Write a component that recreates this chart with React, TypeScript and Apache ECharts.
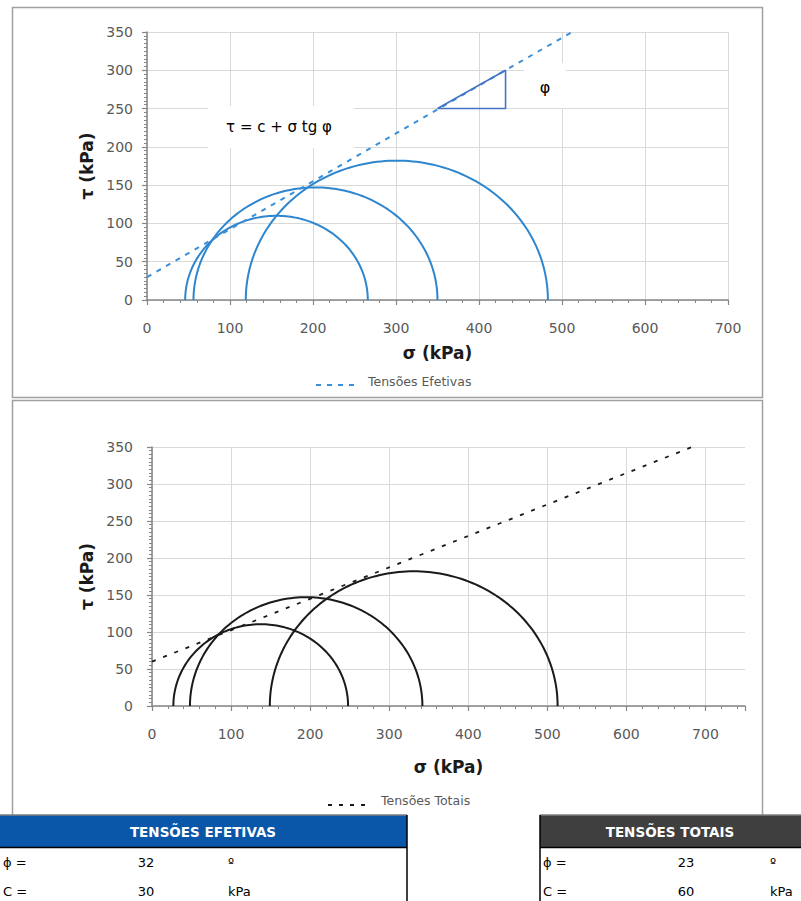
import React, { useEffect, useRef } from "react";
import * as echarts from "echarts";

// ---- Data ----
// Mohr circles: [sigma3, sigma1] (kPa)
const effCircles: number[][] = [
  [46, 266],
  [56, 350],
  [119, 483],
];
const totCircles: number[][] = [
  [27, 248],
  [48, 342],
  [149, 513],
];
// Failure envelopes: [sigma, tau] end points (kPa)
const effEnvelope: number[][] = [
  [0, 30],
  [512, 350],
];
const totEnvelope: number[][] = [
  [0, 60],
  [683, 350],
];
// Slope triangle on the effective envelope
const effTriangle: number[][] = [
  [350, 250],
  [432, 300],
  [432, 250],
  [350, 250],
];
// Parameter tables
const effParams = { phi: "32", c: "30" };
const totParams = { phi: "23", c: "60" };
const seriesNames = ["Tensões Efetivas", "Tensões Totais"];
const axisNames = { x: "σ (kPa)", y: "τ (kPa)" };

const FONT = "DejaVu Sans, sans-serif";
const BLUE = "#2E86CF";
const BLUE_DASH = "#3A8FD8";
const TRI = "#4472C4";
const BLACK = "#1a1a1a";
const AXIS = "#868686";
const GRID = "#D9D9D9";
const LABEL = "#595959";

function circleRenderer(color: string) {
  return (params: any, api: any) => {
    const s3 = api.value(0);
    const s1 = api.value(1);
    const c = (s1 + s3) / 2;
    const r = (s1 - s3) / 2;
    const pts: number[][] = [];
    const N = 120;
    for (let i = 0; i <= N; i++) {
      const t = (Math.PI * i) / N;
      pts.push(api.coord([c + r * Math.cos(t), r * Math.sin(t)]));
    }
    return {
      type: "polyline",
      shape: { points: pts },
      style: { fill: "none", stroke: color, lineWidth: 2 },
    };
  };
}

function xAxisCfg(gridIndex: number, max: number, nameGap: number, hideMax: boolean) {
  return {
    type: "value",
    gridIndex,
    min: 0,
    max,
    interval: 100,
    name: axisNames.x,
    nameLocation: "middle",
    nameGap,
    nameTextStyle: { fontFamily: FONT, fontWeight: "bold", fontSize: 17, color: BLACK },
    axisLine: { show: true, lineStyle: { color: AXIS, width: 1.5 } },
    axisTick: { show: true, length: 5, lineStyle: { color: AXIS, width: 1.2 } },
    minorTick: { show: true, splitNumber: 5, length: 3, lineStyle: { color: AXIS, width: 1 } },
    splitLine: { show: true, showMaxLine: !hideMax, lineStyle: { color: GRID, width: 1 } },
    axisLabel: {
      margin: 21,
      color: LABEL,
      fontSize: 14,
      fontFamily: FONT,
      showMaxLabel: !hideMax,
    },
  };
}

function yAxisCfg(gridIndex: number, nameGap: number, margin: number) {
  return {
    type: "value",
    gridIndex,
    min: 0,
    max: 350,
    interval: 50,
    name: axisNames.y,
    nameLocation: "middle",
    nameGap,
    nameRotate: 90,
    nameTextStyle: { fontFamily: FONT, fontWeight: "bold", fontSize: 17, color: BLACK },
    axisLine: { show: true, lineStyle: { color: AXIS, width: 1.5 } },
    axisTick: { show: true, length: 5, lineStyle: { color: AXIS, width: 1.2 } },
    minorTick: { show: true, splitNumber: 10, length: 3, lineStyle: { color: AXIS, width: 1 } },
    splitLine: { show: true, lineStyle: { color: GRID, width: 1 } },
    axisLabel: { margin, color: LABEL, fontSize: 14, fontFamily: FONT },
  };
}

function txt(x: number, y: number, text: string, opts: any = {}) {
  return {
    type: "text",
    x,
    y,
    z: 10,
    style: {
      text,
      font: opts.font || `13px ${FONT}`,
      fill: opts.fill || "#000",
      align: opts.align || "left",
      verticalAlign: "middle",
    },
  };
}

function ln(x1: number, y1: number, x2: number, y2: number, color: string, w: number, dash?: number[]) {
  return {
    type: "line",
    z: 10,
    shape: { x1, y1, x2, y2 },
    style: { stroke: color, lineWidth: w, lineDash: dash },
  };
}

export default function App() {
  const ref = useRef<HTMLDivElement>(null);

  useEffect(() => {
    if (!ref.current) return;
    const chart = echarts.init(ref.current, undefined, { renderer: "svg" });

    const graphic: any[] = [
      // panel borders
      {
        type: "rect",
        z: -1,
        shape: { x: 12.5, y: 7.5, width: 750, height: 390 },
        style: { fill: "none", stroke: "#A0A0A0", lineWidth: 1.5 },
      },
      {
        type: "rect",
        z: -1,
        shape: { x: 12.5, y: 400.5, width: 750, height: 430 },
        style: { fill: "none", stroke: "#A0A0A0", lineWidth: 1.5 },
      },
      // annotation boxes
      {
        type: "rect",
        z: 1,
        shape: { x: 208, y: 106, width: 146, height: 42 },
        style: { fill: "#fff" },
      },
      txt(279, 127, "τ = c + σ tg φ", { font: `15px ${FONT}`, align: "center" }),
      {
        type: "rect",
        z: 1,
        shape: { x: 524, y: 63, width: 42, height: 45 },
        style: { fill: "#fff" },
      },
      txt(545, 87, "φ", { font: `16px ${FONT}`, align: "center" }),
      // legends
      ln(316, 385, 358, 385, BLUE_DASH, 2, [5, 6]),
      txt(368, 381, seriesNames[0], { font: `12.5px ${FONT}`, fill: LABEL }),
      ln(328, 805, 372, 805, BLACK, 1.8, [4, 7]),
      txt(381, 800, seriesNames[1], { font: `12.5px ${FONT}`, fill: LABEL }),
      // tables background
      {
        type: "rect",
        z: 5,
        shape: { x: 0, y: 815, width: 801, height: 86 },
        style: { fill: "#fff" },
      },
      {
        type: "rect",
        z: 6,
        shape: { x: 0, y: 815, width: 407, height: 32 },
        style: { fill: "#0A56A8" },
      },
      {
        type: "rect",
        z: 6,
        shape: { x: 540, y: 815, width: 261, height: 32 },
        style: { fill: "#3F3F3F" },
      },
      ln(0, 815, 407, 815, "#7F7F7F", 1.5),
      ln(540, 815, 801, 815, "#7F7F7F", 1.5),
      ln(0, 847.5, 407, 847.5, "#000", 1.5),
      ln(540, 847.5, 801, 847.5, "#000", 1.5),
      ln(407, 815, 407, 901, "#000", 1.5),
      ln(540, 815, 540, 901, "#000", 1.5),
      txt(203, 832, "TENSÕES EFETIVAS", { font: `bold 13.5px ${FONT}`, fill: "#fff", align: "center" }),
      txt(670, 832, "TENSÕES TOTAIS", { font: `bold 13.5px ${FONT}`, fill: "#fff", align: "center" }),
      txt(3, 862, "ϕ ="),
      txt(146, 862, effParams.phi, { align: "center" }),
      txt(228, 862, "º"),
      txt(3, 891, "C ="),
      txt(146, 891, effParams.c, { align: "center" }),
      txt(228, 891, "kPa"),
      txt(543, 862, "ϕ ="),
      txt(686, 862, totParams.phi, { align: "center" }),
      txt(770, 862, "º"),
      txt(543, 891, "C ="),
      txt(686, 891, totParams.c, { align: "center" }),
      txt(770, 891, "kPa"),
    ];

    chart.setOption({
      animation: false,
      backgroundColor: "#fff",
      grid: [
        { left: 147, top: 32, width: 581, height: 268 },
        { left: 152, top: 447, width: 593, height: 259 },
      ],
      xAxis: [xAxisCfg(0, 700, 44, false), xAxisCfg(1, 750, 52, true)],
      yAxis: [yAxisCfg(0, 47, 14), yAxisCfg(1, 52, 19)],
      series: [
        {
          type: "custom",
          name: "Círculos efetivos",
          xAxisIndex: 0,
          yAxisIndex: 0,
          data: effCircles,
          renderItem: circleRenderer(BLUE),
          z: 3,
        },
        {
          type: "line",
          name: seriesNames[0],
          xAxisIndex: 0,
          yAxisIndex: 0,
          data: effEnvelope,
          showSymbol: false,
          lineStyle: { color: BLUE_DASH, width: 2, type: [5, 6] },
          z: 4,
        },
        {
          type: "line",
          name: "φ",
          xAxisIndex: 0,
          yAxisIndex: 0,
          data: effTriangle,
          showSymbol: false,
          lineStyle: { color: TRI, width: 1.6 },
          z: 4,
        },
        {
          type: "custom",
          name: "Círculos totais",
          xAxisIndex: 1,
          yAxisIndex: 1,
          data: totCircles,
          renderItem: circleRenderer(BLACK),
          z: 3,
        },
        {
          type: "line",
          name: seriesNames[1],
          xAxisIndex: 1,
          yAxisIndex: 1,
          data: totEnvelope,
          showSymbol: false,
          lineStyle: { color: BLACK, width: 1.8, type: [4, 8] },
          z: 4,
        },
      ],
      graphic,
    });

    return () => chart.dispose();
  }, []);

  return (
    <div
      ref={ref}
      style={{ position: "absolute", left: 0, top: 0, width: 801, height: 901 }}
    />
  );
}
